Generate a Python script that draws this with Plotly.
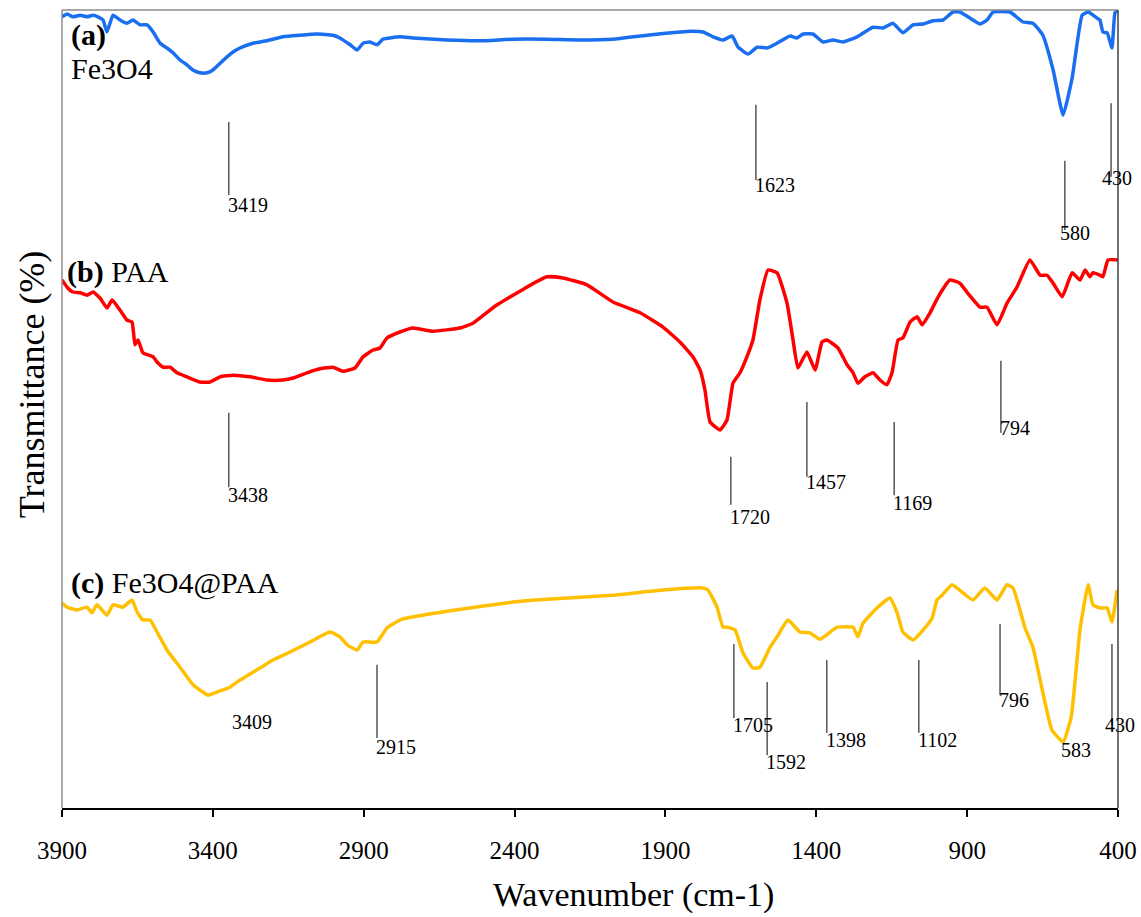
import plotly.graph_objects as go

# ---------------- data (wavenumber cm-1, transmittance a.u. offset) ----------------
fe3o4_wn = [3900, 3883, 3864, 3840, 3817, 3797, 3781, 3764, 3751, 3731, 3708, 3685, 3665, 3641, 3618, 3598,
            3575, 3552, 3532, 3509, 3486, 3466, 3443, 3419, 3400, 3376, 3353, 3333, 3310, 3267, 3221, 3168,
            3111, 3055, 3002, 2979, 2945, 2922, 2902, 2879, 2856, 2836, 2780, 2737, 2624, 2515, 2405, 2293,
            2183, 2074, 1961, 1852, 1819, 1775, 1742, 1709, 1679, 1659, 1626, 1596, 1563, 1530, 1487, 1464,
            1444, 1411, 1378, 1345, 1311, 1265, 1212, 1179, 1146, 1113, 1079, 1046, 1013, 980, 947, 924,
            891, 857, 834, 814, 758, 715, 682, 649, 615, 582, 552, 519, 499, 470, 460, 450, 436, 420, 410, 400]
fe3o4_t = [98.9, 99.25, 98.9, 99.1, 98.9, 99.1, 98.9, 98.5, 97.0, 99.1, 98.5, 98.1, 98.5, 97.9, 97.9, 97.0,
           95.6, 95.0, 94.4, 93.5, 92.9, 92.25, 91.9, 91.9, 92.25, 93.1, 93.9, 94.5, 95.0, 95.6, 95.9, 96.4,
           96.6, 96.75, 96.6, 96.25, 95.4, 94.75, 95.6, 95.75, 95.4, 96.1, 96.4, 96.25, 96.0, 95.9, 96.1, 96.1,
           96.0, 96.1, 96.6, 97.0, 97.1, 97.0, 96.4, 96.0, 96.5, 95.1, 94.25, 95.1, 95.0, 95.6, 96.5, 96.25,
           96.75, 96.75, 95.75, 96.0, 95.75, 96.4, 97.6, 97.5, 98.1, 96.9, 97.9, 98.0, 98.4, 98.5, 99.5, 99.5,
           98.75, 98.0, 98.5, 99.5, 99.5, 98.25, 98.1, 96.6, 92.25, 86.6, 91.25, 99.1, 99.5, 98.75, 98.5, 97.0,
           96.9, 95.0, 99.4, 99.75]

paa_wn = [3900, 3883, 3864, 3840, 3817, 3797, 3774, 3751, 3734, 3708, 3685, 3668, 3658, 3648, 3632, 3598,
          3585, 3565, 3542, 3519, 3486, 3443, 3409, 3376, 3333, 3277, 3221, 3168, 3134, 3088, 3045, 3002,
          2969, 2929, 2902, 2869, 2846, 2823, 2780, 2737, 2670, 2581, 2538, 2458, 2293, 2240, 2160, 2074,
          1984, 1908, 1852, 1809, 1785, 1769, 1752, 1719, 1696, 1676, 1653, 1630, 1610, 1587, 1560, 1530,
          1497, 1477, 1461, 1431, 1404, 1381, 1365, 1328, 1298, 1278, 1262, 1239, 1212, 1189, 1166, 1149,
          1129, 1113, 1089, 1066, 1049, 1023, 996, 957, 924, 901, 857, 834, 801, 768, 735, 692, 658, 635,
          615, 585, 552, 526, 509, 493, 483, 460, 450, 433, 400]
paa_t = [66.0, 65.1, 64.5, 64.4, 64.1, 64.5, 63.75, 62.5, 63.5, 62.25, 61.0, 60.75, 57.9, 58.5, 56.9, 56.4,
         55.75, 55.1, 55.1, 54.4, 53.9, 53.25, 53.25, 53.9, 54.1, 53.9, 53.5, 53.5, 53.75, 54.4, 54.9, 55.1,
         54.6, 55.0, 56.4, 57.25, 57.5, 58.75, 59.5, 60.0, 59.6, 60.0, 60.6, 62.9, 66.4, 66.25, 65.4, 63.25,
         61.9, 60.1, 58.25, 56.4, 54.75, 52.25, 48.25, 47.25, 48.5, 53.1, 54.4, 56.4, 58.5, 63.5, 67.25, 66.9,
         63.1, 58.5, 55.0, 57.0, 54.75, 58.25, 58.5, 57.5, 55.4, 54.4, 53.1, 53.9, 54.4, 53.5, 52.9, 54.4,
         58.5, 58.75, 60.75, 61.4, 60.4, 61.9, 63.9, 66.0, 65.6, 64.5, 62.6, 62.6, 60.4, 63.1, 65.1, 68.5, 66.6, 66.6,
         65.6, 63.9, 66.9, 66.0, 67.25, 66.4, 66.9, 66.6, 66.4, 68.5, 68.5]

composite_wn = [3900, 3883, 3850, 3817, 3801, 3784, 3751, 3731, 3698, 3668, 3651, 3632, 3608, 3585, 3552, 3509,
                3466, 3443, 3416, 3386, 3343, 3310, 3244, 3201, 3144, 3078, 3012, 2979, 2955, 2922, 2902, 2856,
                2823, 2780, 2757, 2624, 2405, 2293, 2074, 1908, 1775, 1759, 1729, 1709, 1693, 1669, 1643, 1610,
                1587, 1553, 1530, 1494, 1454, 1421, 1388, 1331, 1278, 1262, 1245, 1199, 1156, 1132, 1113, 1079,
                1046, 1016, 1000, 983, 950, 914, 881, 841, 801, 768, 748, 708, 682, 649, 619, 582, 555, 526,
                499, 483, 460, 436, 420, 403]
composite_t = [25.6, 25.1, 24.75, 25.1, 24.4, 25.4, 24.1, 25.4, 25.1, 26.0, 24.5, 23.5, 23.5, 22.0, 19.75, 17.6,
               15.4, 14.75, 14.1, 14.5, 15.1, 16.0, 17.5, 18.5, 19.5, 20.75, 22.0, 21.4, 20.4, 19.75, 20.75, 20.75,
               22.5, 23.5, 23.75, 24.6, 25.75, 26.1, 26.6, 27.25, 27.5, 27.25, 25.1, 22.6, 22.6, 22.25, 19.4, 17.5,
               17.6, 20.1, 21.4, 23.5, 22.0, 21.9, 21.1, 22.6, 22.6, 21.4, 23.1, 25.0, 26.25, 24.4, 22.0, 21.0,
               22.25, 23.75, 26.0, 26.6, 27.9, 26.9, 26.0, 27.5, 26.0, 27.9, 27.5, 22.5, 20.1, 14.4, 9.75, 8.25, 11.4, 22.25,
               27.9, 25.4, 25.0, 25.0, 23.25, 27.25]

# peak marker lines: (x, y_top, y_bottom) and labels (text, x, y)
peak_lines_x = [3347, 1600, 576, 423,
                3347, 1683, 1431, 1142, 788,
                2856, 1673, 1563, 1365, 1060, 791, 420]
peak_lines_top = [85.75, 87.9, 80.9, 88.1,
                  49.4, 43.9, 50.75, 48.25, 55.9,
                  17.9, 20.5, 15.75, 18.5, 18.5, 23.0, 20.5]
peak_lines_bottom = [76.6, 78.5, 72.25, 78.9,
                     40.1, 37.9, 41.4, 39.1, 46.9,
                     8.75, 11.25, 6.6, 9.4, 9.4, 14.1, 10.4]

peak_labels = ["3419", "1623", "580", "430",
               "3438", "1720", "1457", "1169", "794",
               "3409", "2915", "1705", "1592", "1398", "1102", "796", "583", "430"]
peak_label_x = [3347, 1600, 589, 450,
                3347, 1683, 1431, 1142, 788,
                3333, 2856, 1673, 1563, 1365, 1060, 791, 586, 440]
peak_label_y = [75.4, 77.9, 71.9, 78.75,
                39.1, 36.4, 40.75, 38.1, 47.5,
                10.75, 7.6, 10.4, 5.75, 8.5, 8.5, 13.5, 7.25, 10.4]

panel_labels = ["<b>(a)</b>", "Fe3O4", "<b>(b)</b> PAA", "<b>(c)</b> Fe3O4@PAA"]
panel_label_x = [3867, 3867, 3880, 3867]
panel_label_y = [96.6, 92.5, 67.0, 28.1]

x_ticks = [3900, 3400, 2900, 2400, 1900, 1400, 900, 400]

FONT = "Liberation Serif"

fig = go.Figure()
for wn, t, col, name in [(fe3o4_wn, fe3o4_t, "#1a6ef0", "Fe3O4"),
                         (paa_wn, paa_t, "#ff0000", "PAA"),
                         (composite_wn, composite_t, "#ffc000", "Fe3O4@PAA")]:
    fig.add_trace(go.Scatter(x=wn, y=t, mode="lines", name=name,
                             line=dict(color=col, width=3.5, shape="spline", smoothing=0.4),
                             showlegend=False, hoverinfo="skip"))

shapes = []
for x, y0, y1 in zip(peak_lines_x, peak_lines_top, peak_lines_bottom):
    shapes.append(dict(type="line", xref="x", yref="y", x0=x, x1=x, y0=y0, y1=y1,
                       line=dict(color="black", width=1)))
# frame: top & left gray, right dark
shapes.append(dict(type="line", xref="paper", yref="paper", x0=0, x1=1, y0=1, y1=1,
                   line=dict(color="#8c8c8c", width=1.5)))
shapes.append(dict(type="line", xref="paper", yref="paper", x0=0, x1=0, y0=0, y1=1,
                   line=dict(color="#8c8c8c", width=1.5)))
shapes.append(dict(type="line", xref="paper", yref="paper", x0=1, x1=1, y0=0, y1=1,
                   line=dict(color="#404040", width=1.5)))

annotations = []
for txt, x, y in zip(peak_labels, peak_label_x, peak_label_y):
    annotations.append(dict(text=txt, x=x, y=y, xref="x", yref="y", xanchor="left", yanchor="middle",
                            showarrow=False, font=dict(family=FONT, size=20, color="black"),
                            borderpad=0, xshift=-2))
for txt, x, y in zip(panel_labels, panel_label_x, panel_label_y):
    annotations.append(dict(text=txt, x=x, y=y, xref="x", yref="y", xanchor="left", yanchor="middle",
                            showarrow=False, font=dict(family=FONT, size=30, color="black"),
                            borderpad=0, xshift=-2))
# axis titles
annotations.append(dict(text="Wavenumber (cm-1)", xref="paper", yref="paper", x=0.5, y=0,
                        xanchor="center", yanchor="middle", xshift=43, yshift=-87, showarrow=False,
                        font=dict(family=FONT, size=34, color="black")))
annotations.append(dict(text="Transmittance (%)", xref="paper", yref="paper", x=0, y=0.531,
                        xanchor="center", yanchor="middle", xshift=-30, textangle=-90, showarrow=False,
                        font=dict(family=FONT, size=36, color="black")))

fig.update_layout(
    width=1141, height=917,
    margin=dict(l=62, r=23, t=10, b=109),
    paper_bgcolor="white", plot_bgcolor="white",
    font=dict(family=FONT, color="black"),
    shapes=shapes, annotations=annotations,
    xaxis=dict(range=[3900, 400], tickvals=x_ticks, ticktext=[str(v) for v in x_ticks],
               showgrid=False, zeroline=False, showline=True, linecolor="black", linewidth=2,
               ticks="outside", ticklen=7, tickwidth=1.5, tickcolor="black", automargin=False,
               tickfont=dict(family=FONT, size=25, color="black"), ticklabelstandoff=12),
    yaxis=dict(range=[0, 99.75], showgrid=False, zeroline=False, showline=False,
               showticklabels=False, ticks="", automargin=False),
)

fig.write_html("out.html")
